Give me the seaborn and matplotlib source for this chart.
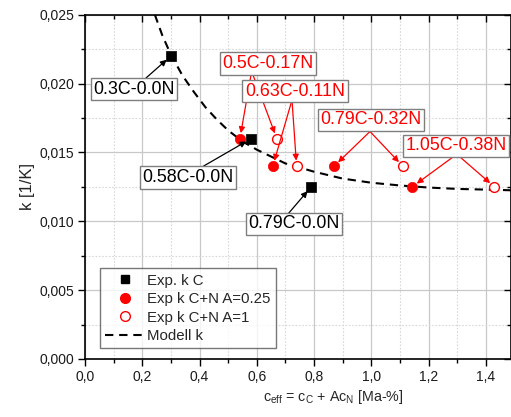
import matplotlib
matplotlib.use("Agg")
import matplotlib.pyplot as plt
import matplotlib.ticker as mticker
from matplotlib.lines import Line2D
import seaborn as sns
import pandas as pd

# ---- data ----
c_exp_x = [0.30, 0.58, 0.79]
c_exp_k = [0.0220, 0.0160, 0.0125]
c_exp_lbl = ["0.3C-0.0N", "0.58C-0.0N", "0.79C-0.0N"]

cn025_x = [0.541, 0.656, 0.870, 1.143]
cn025_k = [0.0160, 0.0140, 0.0140, 0.0125]
cn1_x = [0.670, 0.739, 1.110, 1.430]
cn1_k = [0.0160, 0.0140, 0.0140, 0.0125]
cn_lbl = ["0.5C-0.17N", "0.63C-0.11N", "0.79C-0.32N", "1.05C-0.38N"]

model_x = [0.244, 0.27, 0.30, 0.34, 0.38, 0.42, 0.46, 0.50, 0.55, 0.60, 0.65,
           0.70, 0.75, 0.80, 0.90, 1.00, 1.10, 1.20, 1.30, 1.40, 1.49]
model_k = [0.0250, 0.0235, 0.0221, 0.0206, 0.0194, 0.0183, 0.0174, 0.0166, 0.0158,
           0.0152, 0.0147, 0.0142, 0.0139, 0.0136, 0.0131, 0.0128, 0.0126, 0.01245,
           0.01235, 0.0123, 0.01225]

legend_labels = ["Exp. k C", "Exp k C+N A=0.25", "Exp k C+N A=1", "Modell k"]

# ---- style ----
sns.set_theme(style="ticks")
plt.rcParams["font.family"] = ["Liberation Sans", "DejaVu Sans"]
plt.rcParams["mathtext.fontset"] = "custom"
plt.rcParams["mathtext.rm"] = "Liberation Sans"
plt.rcParams["mathtext.it"] = "Liberation Sans:italic"

W, H = 511, 417
fig = plt.figure(figsize=(W / 100, H / 100), dpi=100)
ax_l, ax_r, ax_t, ax_b = 85, 511, 14.7, 359
ax = fig.add_axes([ax_l / W, 1 - ax_b / H, (ax_r - ax_l) / W, (ax_b - ax_t) / H])

XMAX = 1.488
ax.set_xlim(0, XMAX)
ax.set_ylim(0, 0.025)

def px2data(px, py):
    return ((px - ax_l) / (ax_r - ax_l) * XMAX, (ax_b - py) / (ax_b - ax_t) * 0.025)

# grid
ax.xaxis.set_major_locator(mticker.MultipleLocator(0.2))
ax.xaxis.set_minor_locator(mticker.MultipleLocator(0.1))
ax.yaxis.set_major_locator(mticker.MultipleLocator(0.005))
ax.yaxis.set_minor_locator(mticker.MultipleLocator(0.0025))
ax.grid(which="major", color="#c8c8c8", lw=0.9, ls="-", zorder=0)
ax.grid(which="minor", color="#d8d8d8", lw=0.8, ls=(0, (1.5, 1.5)), zorder=0)
ax.set_axisbelow(True)

# model curve
df_model = pd.DataFrame({"x": model_x, "k": model_k})
sns.lineplot(data=df_model, x="x", y="k", ax=ax, color="black", lw=1.5,
             sort=False, zorder=3, legend=False)
ax.lines[-1].set_dashes([4, 2.8])

df_c = pd.DataFrame({"x": c_exp_x, "k": c_exp_k})
df_f = pd.DataFrame({"x": cn025_x, "k": cn025_k})
df_o = pd.DataFrame({"x": cn1_x, "k": cn1_k})
sns.scatterplot(data=df_c, x="x", y="k", ax=ax, marker="s", s=42, color="black",
                edgecolor="black", linewidth=0.5, zorder=4, legend=False)
sns.scatterplot(data=df_f, x="x", y="k", ax=ax, marker="o", s=55, color="red",
                edgecolor="red", linewidth=0.5, zorder=4, legend=False)
sns.scatterplot(data=df_o, x="x", y="k", ax=ax, marker="o", s=50, facecolor="white",
                edgecolor="red", linewidth=1.0, zorder=4, legend=False)

FS = 12.9
def box():
    return dict(boxstyle="square,pad=0.15", fc="white", ec="#7f7f7f", lw=1.0)

def add_label(text, center_px, color, zt):
    x, y = px2data(*center_px)
    ax.text(x, y, text, color=color, fontsize=FS, ha="center", va="center",
            bbox=box(), zorder=zt)

def add_arrow(start_px, target, color):
    sx, sy = px2data(*start_px)
    ax.annotate("", xy=target, xytext=(sx, sy),
                arrowprops=dict(arrowstyle="-|>", color=color, lw=0.9,
                                mutation_scale=9, shrinkA=0, shrinkB=4),
                zorder=5)

# black labels
add_label(c_exp_lbl[0], (134, 89), "black", 7)
add_arrow((146, 78), (c_exp_x[0], c_exp_k[0]), "black")
add_label(c_exp_lbl[1], (188, 177.5), "black", 7)
add_arrow((202, 167), (c_exp_x[1], c_exp_k[1]), "black")
add_label(c_exp_lbl[2], (294, 224), "black", 7)
add_arrow((288, 214), (c_exp_x[2], c_exp_k[2]), "black")

# red labels
add_label(cn_lbl[0], (268, 63.5), "red", 6)
add_arrow((251, 75), (cn025_x[0], cn025_k[0]), "red")
add_arrow((253, 75), (cn1_x[0], cn1_k[0]), "red")
add_label(cn_lbl[1], (295, 91), "red", 7)
add_arrow((292, 100), (cn025_x[1], cn025_k[1]), "red")
add_arrow((292, 100), (cn1_x[1], cn1_k[1]), "red")
add_label(cn_lbl[2], (371, 120), "red", 7)
add_arrow((370, 131.5), (cn025_x[2], cn025_k[2]), "red")
add_arrow((370, 131.5), (cn1_x[2], cn1_k[2]), "red")
add_label(cn_lbl[3], (456, 146), "red", 7)
add_arrow((453, 157), (cn025_x[3], cn025_k[3]), "red")
add_arrow((460, 157), (cn1_x[3], cn1_k[3]), "red")

# axes formatting
fmt_x = mticker.FuncFormatter(lambda v, p: f"{v:.1f}".replace(".", ","))
fmt_y = mticker.FuncFormatter(lambda v, p: f"{v:.3f}".replace(".", ","))
ax.xaxis.set_major_formatter(fmt_x)
ax.yaxis.set_major_formatter(fmt_y)
ax.tick_params(axis="both", which="major", labelsize=10, direction="out", length=5,
               width=1.0, color="black", labelcolor="#1a1a1a", pad=3)
ax.tick_params(axis="both", which="minor", direction="out", length=3, width=1.0,
               color="black")
ax.tick_params(axis="both", which="both", top=True, right=True)
for t in ax.xaxis.get_major_ticks() + ax.xaxis.get_minor_ticks():
    t.tick2line.set_marker(3)
for t in ax.yaxis.get_major_ticks() + ax.yaxis.get_minor_ticks():
    t.tick2line.set_marker(0)

for s in ax.spines.values():
    s.set_color("black")
    s.set_linewidth(1.2)

ax.set_ylabel("k [1/K]", fontsize=12, labelpad=3)
ax.set_xlabel(r"c$_{\mathrm{eff}}$ = c$_{\mathrm{C}}$ + Ac$_{\mathrm{N}}$ [Ma-%]",
              fontsize=10.3, labelpad=5)
ax.xaxis.set_label_coords((333 - ax_l) / (ax_r - ax_l), -0.085)

handles = [
    Line2D([], [], ls="none", marker="s", ms=6, color="black"),
    Line2D([], [], ls="none", marker="o", ms=7, color="red"),
    Line2D([], [], ls="none", marker="o", ms=7, mfc="white", mec="red", mew=1.0),
    Line2D([], [], color="black", lw=1.5, dashes=[4, 2.8]),
]
leg = ax.legend(handles, legend_labels, loc="lower left",
                bbox_to_anchor=(0.035, 0.031), borderaxespad=0, fontsize=10.8,
                frameon=True, fancybox=False, handlelength=2.6, handletextpad=0.2,
                labelspacing=0.3, borderpad=0.35)
leg.get_frame().set_edgecolor("#555555")
leg.get_frame().set_linewidth(1.0)
leg.set_zorder(8)

fig.savefig("out.png", dpi=100)
